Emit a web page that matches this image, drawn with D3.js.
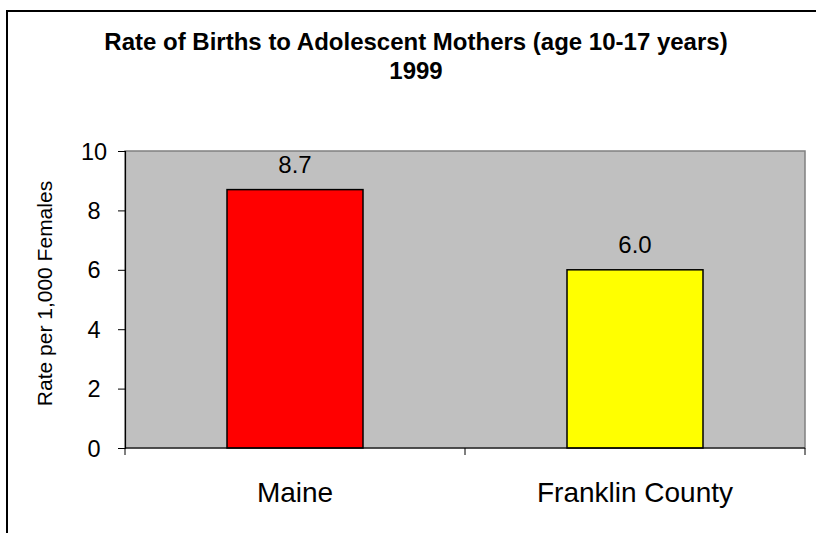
<!DOCTYPE html>
<html>
<head>
<meta charset="utf-8">
<script src="https://cdn.jsdelivr.net/npm/d3@7"></script>
<style>
  body { margin: 0; background: #fff; }
  text { font-family: Arial, "Liberation Sans", sans-serif; fill: #000; }
</style>
</head>
<body>
<div id="chart"></div>
<script>
//Data
var categories = ["Maine", "Franklin County"];
var rates = [8.7, 6.0];
var barColors = ["#FF0000", "#FFFF00"];
var yTicks = [0, 2, 4, 6, 8, 10];
var titleLines = ["Rate of Births to Adolescent Mothers (age 10-17 years)", "1999"];
var yTitle = "Rate per 1,000 Females";

var width = 816, height = 533;
var plot = {left: 125, right: 805, top: 151, bottom: 448};

var svg = d3.select("#chart").append("svg")
    .attr("width", width)
    .attr("height", height);

// outer frame, runs off the right and bottom edges
svg.append("rect")
    .attr("x", 7).attr("y", 11)
    .attr("width", 830).attr("height", 540)
    .attr("fill", "#fff")
    .attr("stroke", "#000")
    .attr("stroke-width", 2);

function addText(x, y, str, size, weight, rotate) {
  return svg.append("text")
      .attr("transform", "translate(" + x + "," + y + ")" + (rotate ? " rotate(-90)" : ""))
      .attr("text-anchor", "middle")
      .style("font-size", size + "px")
      .style("font-weight", weight || "normal")
      .text(str);
}

// title
addText(416, 50, titleLines[0], 24, "bold");
addText(416, 79, titleLines[1], 24, "bold");

var x = d3.scaleBand()
    .domain(categories)
    .range([plot.left, plot.right])
    .paddingInner(0.6)
    .paddingOuter(0.3);

var y = d3.scaleLinear()
    .domain([0, 10])
    .range([plot.bottom, plot.top]);

// plot area
svg.append("rect")
    .attr("x", plot.left).attr("y", plot.top)
    .attr("width", plot.right - plot.left)
    .attr("height", plot.bottom - plot.top)
    .attr("fill", "#C0C0C0")
    .attr("stroke", "#808080")
    .attr("stroke-width", 1.5);

// bars
svg.selectAll("rect.bar")
    .data(rates)
    .enter().append("rect")
    .attr("class", "bar")
    .attr("x", function(d, i){ return x(categories[i]); })
    .attr("y", function(d){ return y(d); })
    .attr("width", x.bandwidth())
    .attr("height", function(d){ return y(0) - y(d); })
    .attr("fill", function(d, i){ return barColors[i]; })
    .attr("stroke", "#000")
    .attr("stroke-width", 1.5);

// value labels
rates.forEach(function(d, i){
  addText(x(categories[i]) + x.bandwidth() / 2, y(d) - 17, d.toFixed(1), 24);
});

// y axis
var yAxis = d3.axisLeft(y).tickValues(yTicks).tickSize(7).tickFormat(d3.format("d"));
var gy = svg.append("g")
    .attr("transform", "translate(" + plot.left + ",0)")
    .call(yAxis);
gy.select(".domain").attr("stroke", "#000").attr("stroke-width", 1.2);
gy.selectAll(".tick line").attr("stroke", "#000");
gy.selectAll(".tick text").remove();
yTicks.forEach(function(t){
  addText(plot.left - 31, y(t) + 8.5, t, 23.5);
});

// x axis (ticks on band edges)
var edges = [plot.left, plot.left + x.step(), plot.right];
svg.append("line")
    .attr("x1", plot.left).attr("x2", plot.right)
    .attr("y1", plot.bottom).attr("y2", plot.bottom)
    .attr("stroke", "#000").attr("stroke-width", 1.2);
svg.selectAll("line.xtick")
    .data(edges)
    .enter().append("line")
    .attr("class", "xtick")
    .attr("x1", function(d){ return d; }).attr("x2", function(d){ return d; })
    .attr("y1", plot.bottom).attr("y2", plot.bottom + 7)
    .attr("stroke", "#000");

categories.forEach(function(c){
  addText(x(c) + x.bandwidth() / 2, 502, c, 28);
});

// y axis title
addText(52, (plot.top + plot.bottom) / 2 - 6, yTitle, 21, "normal", true);
</script>
</body>
</html>
